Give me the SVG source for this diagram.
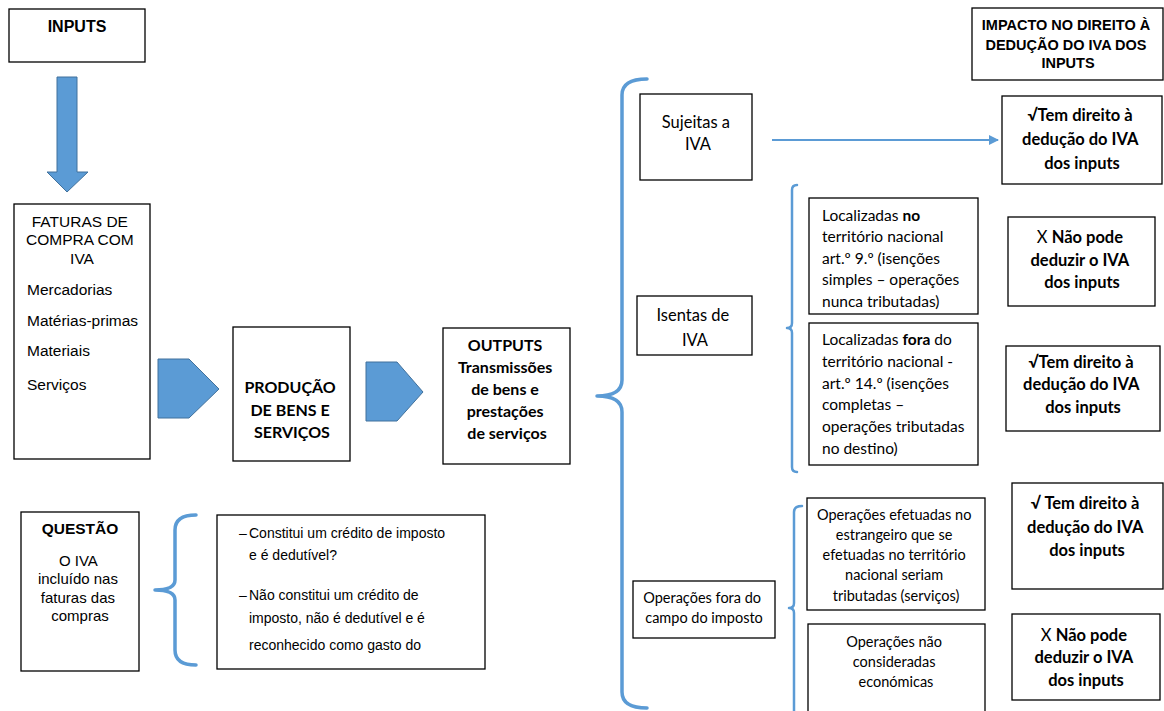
<svg xmlns="http://www.w3.org/2000/svg" width="1164" height="711" viewBox="0 0 1164 711">
  <defs>
    <style>
      .box { fill: #ffffff; stroke: #000000; stroke-width: 1.3; }
      .arial { font-family: "Liberation Sans", Arial, sans-serif; fill: #000000; }
      .cal { font-family: Lato, "Open Sans", sans-serif; fill: #000000; }
      .b { font-weight: bold; }
      .mid { text-anchor: middle; }
      .blk { fill: #5B9BD5; stroke: #41719C; stroke-width: 1; }
      .brace { fill: none; stroke: #5B9BD5; stroke-linecap: round; stroke-linejoin: round; }
    </style>
    <marker id="arrowHead" viewBox="0 0 10 10" refX="9" refY="5" markerWidth="5" markerHeight="5" orient="auto">
      <path d="M0,0 L10,5 L0,10 z" fill="#5B9BD5"/>
    </marker>
  </defs>
  <rect width="1164" height="711" fill="#ffffff"/>

  <!-- connectors: block arrows, braces and the plain arrow -->
  <g id="connectors">
    <polygon class="blk" points="57,77 77,77 77,172 88,172 67,192 47,172 57,172"/>
    <polygon class="blk" points="158,359 189,359 219,389 189,418 158,418"/>
    <polygon class="blk" points="366,362 397,362 423,392 397,421 366,421"/>
    <path class="brace" stroke-width="3.5" d="M647,79 Q622,79 622,95 L622,380 Q622,396 597,396 Q622,396 622,412 L622,692 Q622,708 647,708"/>
    <path class="brace" stroke-width="2.5" d="M797,185 Q792,185 792,190 L792,323 Q792,328 787,328 Q792,328 792,333 L792,467 Q792,472 797,472"/>
    <path class="brace" stroke-width="2.5" d="M802,506 Q794,506 794,512 L794,603 Q794,608 789,608 Q794,608 794,613 L794,720"/>
    <path class="brace" stroke-width="3.5" d="M196,515 Q175,515 175,530 L175,580 Q175,590 155,590 Q175,590 175,600 L175,650 Q175,665 196,665"/>
    <line x1="772" y1="140" x2="998" y2="140" stroke="#5B9BD5" stroke-width="2" marker-end="url(#arrowHead)"/>
  </g>

  <g id="inputs">
    <rect class="box" x="9" y="9" width="136" height="53"/>
    <text class="arial b mid" x="77" y="32" font-size="16">INPUTS</text>
  </g>

  <g id="faturas">
    <rect class="box" x="14" y="204" width="136" height="255"/>
    <text class="arial mid" x="82" font-size="15.5">
      <tspan x="82" y="227">FATURAS DE</tspan>
      <tspan x="82" y="245">COMPRA COM</tspan>
      <tspan x="82" y="264">IVA</tspan>
    </text>
    <text class="arial" font-size="15.5">
      <tspan x="27" y="295">Mercadorias</tspan>
      <tspan x="27" y="326">Matérias-primas</tspan>
      <tspan x="27" y="356">Materiais</tspan>
      <tspan x="27" y="390">Serviços</tspan>
    </text>
  </g>

  <g id="producao">
    <rect class="box" x="233" y="327" width="117" height="134"/>
    <text class="cal b mid" font-size="16">
      <tspan x="292" y="393">PRODUÇÃO</tspan>
      <tspan x="292" y="416">DE BENS E</tspan>
      <tspan x="292" y="438">SERVIÇOS</tspan>
    </text>
  </g>

  <g id="outputs">
    <rect class="box" x="443" y="328" width="127" height="136"/>
    <text class="cal b mid" font-size="16">
      <tspan x="507" y="351">OUTPUTS</tspan>
      <tspan x="507" y="373">Transmissões</tspan>
      <tspan x="507" y="395">de bens e</tspan>
      <tspan x="507" y="417">prestações</tspan>
      <tspan x="507" y="439">de serviços</tspan>
    </text>
  </g>

  <g id="impacto">
    <rect class="box" x="972" y="8" width="191" height="72"/>
    <text class="arial b mid" font-size="14.5">
      <tspan x="1068" y="30">IMPACTO NO DIREITO À</tspan>
      <tspan x="1068" y="50">DEDUÇÃO DO IVA DOS</tspan>
      <tspan x="1068" y="68">INPUTS</tspan>
    </text>
  </g>

  <g id="sujeitas">
    <rect class="box" x="640" y="94" width="112" height="86"/>
    <text class="cal mid" font-size="16.5">
      <tspan x="698" y="128">Sujeitas a</tspan>
      <tspan x="698" y="150">IVA</tspan>
    </text>
  </g>

  <g id="deducao-sujeitas">
    <rect class="box" x="1002" y="96" width="160" height="88"/>
    <text class="cal b mid" font-size="16.5">
      <tspan x="1082" y="121">√Tem direito à</tspan>
      <tspan x="1082" y="145">dedução do IVA</tspan>
      <tspan x="1082" y="169">dos inputs</tspan>
    </text>
  </g>

  <g id="isentas">
    <rect class="box" x="637" y="296" width="115" height="59"/>
    <text class="cal mid" font-size="16.5">
      <tspan x="695" y="321">Isentas de</tspan>
      <tspan x="695" y="346">IVA</tspan>
    </text>
  </g>

  <g id="isentas-no-territorio">
    <rect class="box" x="809" y="198" width="169" height="116"/>
    <text class="cal" font-size="15.5">
      <tspan x="822" y="221">Localizadas <tspan class="b">no</tspan></tspan>
      <tspan x="822" y="242">território nacional</tspan>
      <tspan x="822" y="264">art.º 9.º (isenções</tspan>
      <tspan x="822" y="285">simples – operações</tspan>
      <tspan x="822" y="307">nunca tributadas)</tspan>
    </text>
  </g>

  <g id="isentas-fora-territorio">
    <rect class="box" x="809" y="323" width="169" height="142"/>
    <text class="cal" font-size="15.5">
      <tspan x="822" y="345">Localizadas <tspan class="b">fora</tspan> do</tspan>
      <tspan x="822" y="367">território nacional -</tspan>
      <tspan x="822" y="389">art.º 14.º (isenções</tspan>
      <tspan x="822" y="410">completas –</tspan>
      <tspan x="822" y="432">operações tributadas</tspan>
      <tspan x="822" y="454">no destino)</tspan>
    </text>
  </g>

  <g id="nao-pode-isentas">
    <rect class="box" x="1008" y="217" width="147" height="89"/>
    <text class="cal mid" font-size="16.5">
      <tspan x="1082" y="243">X <tspan class="b">Não pode</tspan></tspan>
      <tspan x="1082" y="266" class="b">deduzir o IVA</tspan>
      <tspan x="1082" y="288" class="b">dos inputs</tspan>
    </text>
  </g>

  <g id="deducao-isentas">
    <rect class="box" x="1006" y="346" width="154" height="85"/>
    <text class="cal b mid" font-size="16.5">
      <tspan x="1083" y="368">√Tem direito à</tspan>
      <tspan x="1083" y="390">dedução do IVA</tspan>
      <tspan x="1083" y="413">dos inputs</tspan>
    </text>
  </g>

  <g id="fora-campo">
    <rect class="box" x="633" y="581" width="142" height="57"/>
    <text class="cal mid" font-size="14.5">
      <tspan x="704" y="603">Operações fora do</tspan>
      <tspan x="704" y="623">campo do imposto</tspan>
    </text>
  </g>

  <g id="estrangeiro">
    <rect class="box" x="807" y="498" width="178" height="112"/>
    <text class="cal mid" font-size="14.5">
      <tspan x="896" y="520">Operações efetuadas no</tspan>
      <tspan x="896" y="540">estrangeiro que se</tspan>
      <tspan x="896" y="560">efetuadas no território</tspan>
      <tspan x="896" y="580">nacional seriam</tspan>
      <tspan x="896" y="601">tributadas (serviços)</tspan>
    </text>
  </g>

  <g id="nao-economicas">
    <!-- runs past the lower edge of the page -->
    <rect class="box" x="808" y="624" width="177" height="96"/>
    <text class="cal mid" font-size="14.5">
      <tspan x="896" y="647">Operações não</tspan>
      <tspan x="896" y="667">consideradas</tspan>
      <tspan x="896" y="687">económicas</tspan>
    </text>
  </g>

  <g id="deducao-fora-campo">
    <rect class="box" x="1012" y="483" width="151" height="106"/>
    <text class="cal b mid" font-size="16.5">
      <tspan x="1087" y="509">√ Tem direito à</tspan>
      <tspan x="1087" y="533">dedução do IVA</tspan>
      <tspan x="1087" y="556">dos inputs</tspan>
    </text>
  </g>

  <g id="nao-pode-fora-campo">
    <rect class="box" x="1012" y="614" width="148" height="86"/>
    <text class="cal mid" font-size="16.5">
      <tspan x="1086" y="641">X <tspan class="b">Não pode</tspan></tspan>
      <tspan x="1086" y="663" class="b">deduzir o IVA</tspan>
      <tspan x="1086" y="686" class="b">dos inputs</tspan>
    </text>
  </g>

  <g id="questao">
    <rect class="box" x="21" y="512" width="118" height="159"/>
    <text class="arial b mid" x="80" y="534" font-size="15.5">QUESTÃO</text>
    <text class="arial mid" font-size="15">
      <tspan x="80" y="566">O IVA</tspan>
      <tspan x="80" y="584">incluído nas</tspan>
      <tspan x="80" y="603">faturas das</tspan>
      <tspan x="80" y="621">compras</tspan>
    </text>
  </g>

  <g id="respostas">
    <rect class="box" x="217" y="515" width="268" height="154"/>
    <text class="arial" font-size="14">
      <tspan x="239" y="538">–</tspan><tspan x="249" y="538">Constitui um crédito de imposto</tspan>
      <tspan x="249" y="560">e é dedutível?</tspan>
      <tspan x="239" y="600">–</tspan><tspan x="249" y="600">Não constitui um crédito de</tspan>
      <tspan x="249" y="623">imposto, não é dedutível e é</tspan>
      <tspan x="249" y="650">reconhecido como gasto do</tspan>
    </text>
  </g>
</svg>
